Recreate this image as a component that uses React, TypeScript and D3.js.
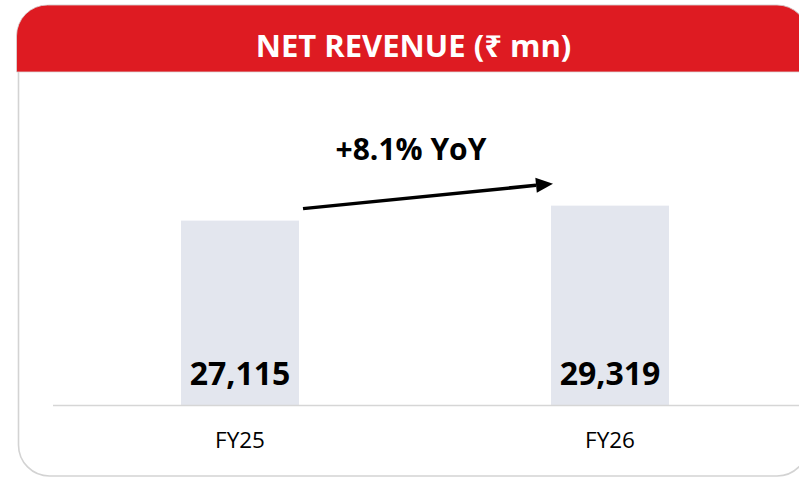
import React from "react";
import * as d3 from "d3";

const categories = ["FY25", "FY26"];
const values = [27115, 29319];
const valueLabels = ["27,115", "29,319"];
const title = "NET REVENUE (₹ mn)";
const growthLabel = "+8.1% YoY";

const W = 799;
const H = 478;

export default function App() {
  const x = d3
    .scaleBand<string>()
    .domain(categories)
    .range([55, 795])
    .paddingInner(0.681)
    .paddingOuter(0.3405);
  const baseY = 405;
  const y = d3.scaleLinear().domain([0, 40000]).range([baseY, baseY - 272]);

  // card geometry
  const L = 18.5, T = 5.5, R = 808, B = 476, r = 31;
  const cardPath = `M${L},${T + r} A${r},${r} 0 0 1 ${L + r},${T} L${R - r},${T} A${r},${r} 0 0 1 ${R},${T + r} L${R},${B - r} A${r},${r} 0 0 1 ${R - r},${B} L${L + r},${B} A${r},${r} 0 0 1 ${L},${B - r} Z`;
  const HB = 72;
  const hL = 16.5, hT = 5, hR = 808;
  const headerPath = `M${hL},${HB} L${hL},${hT + r} A${r},${r} 0 0 1 ${hL + r},${hT} L${hR - r},${hT} A${r},${r} 0 0 1 ${hR},${hT + r} L${hR},${HB} Z`;

  const bw = x.bandwidth();
  const x0 = (x(categories[0]) ?? 0) + bw;
  const x1 = x(categories[1]) ?? 0;

  // arrow from right edge of first bar to left edge of second bar
  const ax1 = x0 + 4, ay1 = y(values[0]) - 12;
  const ax2 = x1 + 2, ay2 = y(values[1]) - 22;
  const ang = Math.atan2(ay2 - ay1, ax2 - ax1);
  const headLen = 17, headW = 7.5;
  const bx = ax2 - headLen * Math.cos(ang), by = ay2 - headLen * Math.sin(ang);
  const px = -Math.sin(ang) * headW, py = Math.cos(ang) * headW;

  return (
    <div style={{ position: "fixed", left: 0, top: 0 }}>
      <svg width={W} height={H} viewBox={`0 0 ${W} ${H}`} style={{ display: "block", background: "#fff" }}>
        <path d={cardPath} fill="#fff" stroke="#d3d3d3" strokeWidth={1.6} />
        <path d={headerPath} fill="#de1b22" stroke="#d9d9d9" strokeWidth={0.8} />
        <text
          x={413.5}
          y={57}
          textAnchor="middle"
          fill="#fff"
          fontFamily="'Open Sans', 'Noto Sans', sans-serif"
          fontWeight={700}
          fontSize={31}
        >
          {title}
        </text>

        {categories.map((c, i) => (
          <rect
            key={c}
            x={x(c)}
            y={y(values[i])}
            width={bw}
            height={baseY - y(values[i])}
            fill="#e3e6ee"
          />
        ))}

        <line x1={53} x2={799} y1={baseY + 0.5} y2={baseY + 0.5} stroke="#d6d6d6" strokeWidth={1.5} />

        {categories.map((c, i) => (
          <text
            key={c + "v"}
            x={(x(c) ?? 0) + bw / 2}
            y={385}
            textAnchor="middle"
            fill="#000"
            fontFamily="'Open Sans', sans-serif"
            fontWeight={700}
            fontSize={32}
          >
            {valueLabels[i]}
          </text>
        ))}

        {categories.map((c) => (
          <text
            key={c + "c"}
            x={(x(c) ?? 0) + bw / 2}
            y={448}
            textAnchor="middle"
            fill="#000"
            fontFamily="'Open Sans', sans-serif"
            fontSize={22.5}
          >
            {c}
          </text>
        ))}

        <line x1={ax1} y1={ay1} x2={bx} y2={by} stroke="#000" strokeWidth={3.5} />
        <path
          d={`M${ax2},${ay2} L${bx + px},${by + py} L${bx - px},${by - py} Z`}
          fill="#000"
        />
        <text
          x={411}
          y={160}
          textAnchor="middle"
          fill="#000"
          fontFamily="'Open Sans', sans-serif"
          fontWeight={700}
          fontSize={30}
        >
          {growthLabel}
        </text>
      </svg>
    </div>
  );
}
